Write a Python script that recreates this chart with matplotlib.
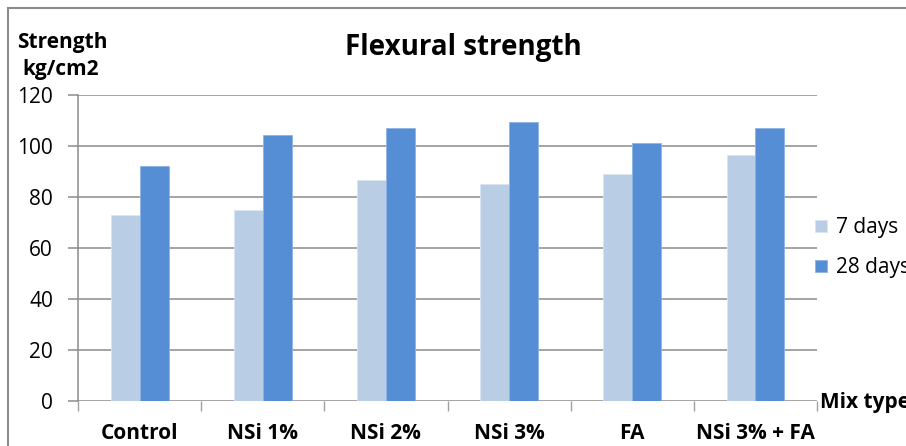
from matplotlib import pyplot as plt
from matplotlib.lines import Line2D
import numpy as np

# data
mixes = ["Control", "NSi 1%", "NSi 2%", "NSi 3%", "FA", "NSi 3% + FA"]
days7 = [73, 75, 86.5, 85, 89, 96.5]
days28 = [92, 104.5, 107, 109.5, 101, 107]
yticks = [0, 20, 40, 60, 80, 100, 120]

plt.rcParams['font.family'] = ['Open Sans', 'DejaVu Sans']

fig = plt.figure(figsize=(9.06, 4.46), dpi=100)
ax = fig.add_axes([0.0861, 0.1009, 0.8157, 0.6861])

x = np.arange(len(mixes))
w = 0.235
b1 = ax.bar(x - w/2, days7, w, color="#B9CDE5", edgecolor="#DCE6F2", linewidth=0.6, label="7 days", zorder=3)
b2 = ax.bar(x + w/2, days28, w, color="#558ED5", edgecolor="#8DB3E2", linewidth=0.6, label="28 days", zorder=3)

ax.set_xlim(-0.5, len(mixes) - 0.5)
ax.set_ylim(0, 120)
ax.set_yticks(yticks)
ax.set_yticklabels([str(v) for v in yticks], fontsize=15)
ax.yaxis.grid(True, color="#8C8C8C", linewidth=1.1, zorder=0)
ax.tick_params(axis="y", length=7, color="#8C8C8C", width=1.1, pad=11)

# category labels, ticks at boundaries
ax.set_xticks(x)
ax.set_xticklabels(mixes, fontsize=15, fontweight="bold")
ax.tick_params(axis="x", length=0, pad=16)
ax.set_xticks(np.arange(len(mixes) + 1) - 0.5, minor=True)
ax.tick_params(axis="x", which="minor", length=7, color="#A0A0A0", width=1)

for s in ["top", "right", "bottom"]:
    ax.spines[s].set_visible(False)
ax.spines["left"].set_color("#8C8C8C")
ax.spines["left"].set_linewidth(1.1)

fig.text(0.511, 0.894, "Flexural strength", ha="center", va="center", fontsize=20, fontweight="bold")
fig.text(0.0188, 0.892, "Strength", ha="left", va="baseline", fontsize=15, fontweight="bold")
fig.text(0.0243, 0.832, "kg/cm2", ha="left", va="baseline", fontsize=15, fontweight="bold")
fig.text(0.905, 0.097, "Mix type", ha="left", va="center", fontsize=15, fontweight="bold")

fig.legend(handles=[b1, b2], loc="upper left", bbox_to_anchor=(0.900, 0.513), frameon=False,
           fontsize=15, handlelength=0.55, handleheight=0.55, handletextpad=0.43, labelspacing=0.92,
           borderaxespad=0, borderpad=0)

# outer chart border (left and top edges visible)
fig.add_artist(Line2D([0.009, 0.009], [0, 0.982], transform=fig.transFigure, color="#8C8C8C", linewidth=1.5))
fig.add_artist(Line2D([0.009, 1.0], [0.982, 0.982], transform=fig.transFigure, color="#8C8C8C", linewidth=1.5))

fig.savefig("out.png", dpi=100)
